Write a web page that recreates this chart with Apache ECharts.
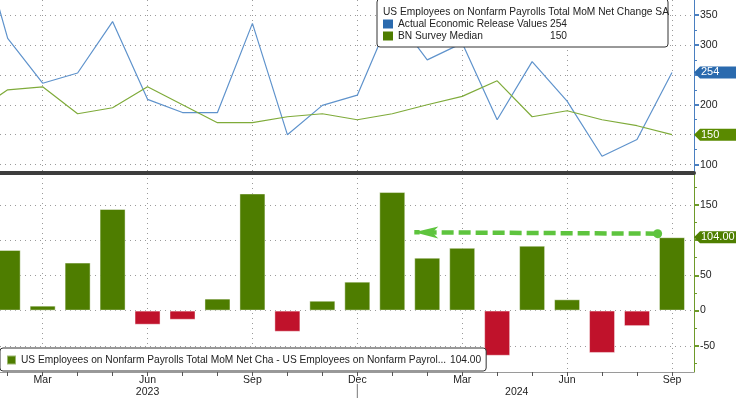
<!DOCTYPE html>
<html>
<head>
<meta charset="utf-8">
<script src="https://cdn.jsdelivr.net/npm/echarts@6/dist/echarts.min.js"></script>
<style>
  html, body { margin: 0; padding: 0; background: #fff; }
  #chart { width: 736px; height: 398px; }
</style>
</head>
<body>
<div id="chart"></div>
<script>
// monthly releases, Jan 2023 .. Sep 2024 (x position = index)
const periods = [
  'Jan 2023', 'Feb 2023', 'Mar 2023', 'Apr 2023', 'May 2023', 'Jun 2023', 'Jul 2023',
  'Aug 2023', 'Sep 2023', 'Oct 2023', 'Nov 2023', 'Dec 2023', 'Jan 2024', 'Feb 2024',
  'Mar 2024', 'Apr 2024', 'May 2024', 'Jun 2024', 'Jul 2024', 'Aug 2024', 'Sep 2024'
];
const actual = [517, 311, 236, 253, 339, 209, 187, 187, 336, 150, 199, 216, 353, 275, 303, 175, 272, 206, 114, 142, 254];
const survey = [185, 225, 230, 185, 195, 230, 200, 170, 170, 180, 185, 175, 185, 200, 214, 240, 180, 190, 175, 165, 150];
const surprise = [null, 86, 7, 68, 144, -20, -13, 17, 166, -30, 14, 41, 168, 75, 89, -64, 92, 16, -60, -22, 104];

const monthTicks = [1, 2, 3, 4, 5, 6, 7, 8, 9, 10, 11, 12, 13, 14, 15, 16, 17, 18, 19, 20];
const quarterTicks = [2, 5, 8, 11, 14, 17, 20];
const yearLabelPos = [5, 15.56];
const yearLabels = ['2023', '2024'];

const topTicks = [100, 150, 200, 250, 300, 350];
const topMinor = [125, 175, 225, 275, 325];
const botTicks = [-50, 0, 50, 100, 150];
const botMinor = [-75, -25, 25, 75, 125, 175];

// the dashed "surprise" arrow annotation
const arrowFrom = [19.59, 109];
const arrowTo = [12.63, 111];

const titleText = 'US Employees on Nonfarm Payrolls Total MoM Net Change SA';
const actualName = 'Actual Economic Release Values';
const surveyName = 'BN Survey Median';
const barName = 'US Employees on Nonfarm Payrolls Total MoM Net Cha - US Employees on Nonfarm Payrol...';

const FONT = "'Liberation Sans', Arial, sans-serif";
const FS = 10.2;   // legend / title text
const AFS = 10.5;  // axis labels
const xMin = 0.78, xMax = 20.63;

const blue = '#5f93cc';
const blueDark = '#2a6aae';
const green = '#7fab3a';
const greenDark = '#4e7d00';
const red = '#c0122b';
const dotted = { color: '#9a9a9a', type: [1, 4], width: 1 };

const chart = echarts.init(document.getElementById('chart'), null, { renderer: 'canvas' });

function badge(x, y, text, color) {
  return {
    symbol: 'path://M0,6 L6,0 L48,0 L48,12 L6,12 Z',
    symbolSize: [48, 12],
    symbolKeepAspect: false,
    symbolOffset: [24, 0],
    animation: false,
    silent: true,
    itemStyle: { color: color },
    label: {
      show: true,
      position: 'insideLeft',
      distance: 7,
      color: '#fff',
      fontSize: 11,
      fontFamily: FONT,
      formatter: text
    },
    data: [{ coord: [x, y] }]
  };
}

function xBase(gridIndex) {
  return {
    type: 'value',
    gridIndex: gridIndex,
    min: xMin,
    max: xMax,
    position: 'bottom'
  };
}

const option = {
  animation: false,
  backgroundColor: '#fff',
  textStyle: { fontFamily: FONT },
  title: {
    text: titleText,
    left: 383,
    top: 6,
    padding: 0,
    textStyle: { fontFamily: FONT, fontSize: FS, fontWeight: 'normal', color: '#222', lineHeight: 12 }
  },
  legend: [
    {
      data: [actualName, surveyName],
      orient: 'vertical',
      left: 377,
      top: -1,
      padding: [19, 6, 5, 6],
      itemWidth: 10,
      itemHeight: 9,
      itemGap: 0,
      icon: 'rect',
      backgroundColor: '#fff',
      borderColor: '#333',
      borderWidth: 1,
      borderRadius: 3,
      selectedMode: false,
      formatter: function (name) {
        const v = name === actualName ? actual[actual.length - 1] : survey[survey.length - 1];
        return '{n|' + name + '}{v|' + v + '}';
      },
      textStyle: {
        fontFamily: FONT, fontSize: FS, color: '#222', lineHeight: 12,
        rich: {
          n: { width: 152, fontFamily: FONT, fontSize: FS, color: '#222' },
          v: { width: 112, fontFamily: FONT, fontSize: FS, color: '#222' }
        }
      }
    },
    {
      data: [barName],
      left: 0,
      top: 348,
      padding: [6, 5, 5, 6],
      itemWidth: 9,
      itemHeight: 9,
      icon: 'rect',
      backgroundColor: '#fff',
      borderColor: '#333',
      borderWidth: 1,
      borderRadius: 3,
      selectedMode: false,
      formatter: function (name) {
        return '{n|' + name + '}{v|' + surprise[surprise.length - 1].toFixed(2) + '}';
      },
      textStyle: {
        fontFamily: FONT, fontSize: FS, color: '#222', lineHeight: 12,
        rich: {
          n: { width: 429, fontFamily: FONT, fontSize: FS, color: '#222' },
          v: { width: 27, fontFamily: FONT, fontSize: FS, color: '#222' }
        }
      }
    }
  ],
  grid: [
    { left: 0, right: 42, top: 0, height: 173 },
    { left: 0, right: 42, top: 173, bottom: 26 }
  ],
  xAxis: [
    // top panel: quarter gridlines + dark separator as its axis line
    Object.assign(xBase(0), {
      axisLine: { show: true, onZero: false, lineStyle: { color: '#3d3d3d', width: 4 } },
      axisTick: { show: false, customValues: quarterTicks },
      axisLabel: { show: false },
      splitLine: { show: true, lineStyle: dotted }
    }),
    // bottom panel: month ticks + quarter labels
    Object.assign(xBase(1), {
      axisLine: { show: true, onZero: false, lineStyle: { color: '#9a9a9a', width: 1 } },
      axisTick: { show: true, customValues: monthTicks, length: 4, lineStyle: { color: '#555' } },
      axisLabel: {
        customValues: quarterTicks,
        margin: 3,
        color: '#222',
        fontSize: AFS,
        fontFamily: FONT,
        formatter: function (v) { return periods[Math.round(v)].split(' ')[0]; }
      },
      splitLine: { show: false }
    }),
    // bottom panel: quarter gridlines
    Object.assign(xBase(1), {
      axisLine: { show: false },
      axisTick: { show: false, customValues: quarterTicks },
      axisLabel: { show: false },
      splitLine: { show: true, lineStyle: dotted }
    }),
    // year labels
    Object.assign(xBase(1), {
      axisLine: { show: false },
      axisTick: { show: false, customValues: yearLabelPos },
      axisLabel: {
        customValues: yearLabelPos,
        margin: 15,
        color: '#222',
        fontSize: AFS,
        fontFamily: FONT,
        formatter: function (v) { return v < 11 ? yearLabels[0] : yearLabels[1]; }
      },
      splitLine: { show: false }
    })
  ],
  yAxis: [
    {
      type: 'value', gridIndex: 0, position: 'right', min: 86, max: 375,
      axisLine: { show: true, lineStyle: { color: '#4a7fc0', width: 1 } },
      axisTick: { show: true, customValues: topTicks, length: 5, lineStyle: { color: '#4a7fc0', width: 2 } },
      axisLabel: { customValues: topTicks, margin: 6, color: '#222', fontSize: AFS, fontFamily: FONT },
      splitLine: { show: true, lineStyle: dotted }
    },
    {
      type: 'value', gridIndex: 0, position: 'right', min: 86, max: 375,
      axisLine: { show: false },
      axisTick: { show: true, customValues: topMinor, length: 3, lineStyle: { color: '#4a7fc0', width: 1 } },
      axisLabel: { show: false },
      splitLine: { show: false }
    },
    {
      type: 'value', gridIndex: 1, position: 'right', min: -87, max: 195,
      axisLine: { show: true, lineStyle: { color: '#6e9a2a', width: 1 } },
      axisTick: { show: true, customValues: botTicks, length: 5, lineStyle: { color: '#6e9a2a', width: 2 } },
      axisLabel: { customValues: botTicks, margin: 6, color: '#222', fontSize: AFS, fontFamily: FONT },
      splitLine: { show: true, lineStyle: dotted }
    },
    {
      type: 'value', gridIndex: 1, position: 'right', min: -87, max: 195,
      axisLine: { show: false },
      axisTick: { show: true, customValues: botMinor, length: 3, lineStyle: { color: '#6e9a2a', width: 1 } },
      axisLabel: { show: false },
      splitLine: { show: false }
    }
  ],
  series: [
    {
      name: actualName,
      type: 'line',
      xAxisIndex: 0,
      yAxisIndex: 0,
      data: actual.map((v, i) => [i, v]),
      symbol: 'none',
      color: blueDark,
      lineStyle: { color: blue, width: 1.2 },
      markPoint: badge(xMax, actual[actual.length - 1], String(actual[actual.length - 1]), blueDark)
    },
    {
      name: surveyName,
      type: 'line',
      xAxisIndex: 0,
      yAxisIndex: 0,
      data: survey.map((v, i) => [i, v]),
      symbol: 'none',
      color: greenDark,
      lineStyle: { color: green, width: 1.2 },
      markPoint: badge(xMax, survey[survey.length - 1], String(survey[survey.length - 1]), '#5a8a00')
    },
    {
      name: barName,
      type: 'bar',
      xAxisIndex: 1,
      yAxisIndex: 2,
      barWidth: 26,
      color: greenDark,
      data: surprise.map((v, i) => [i, v]).filter(d => d[1] !== null),
      itemStyle: {
        color: function (p) { return p.value[1] >= 0 ? greenDark : red; },
        borderColor: 'rgba(255,255,255,0.45)',
        borderWidth: 1
      },
      markLine: {
        silent: true,
        animation: false,
        symbol: ['circle', 'arrow'],
        symbolSize: [9, 24],
        label: { show: false },
        lineStyle: { color: '#5ec43e', width: 4.5, type: [12, 5] },
        data: [[{ coord: arrowFrom }, { coord: arrowTo }]]
      },
      markPoint: badge(xMax, surprise[surprise.length - 1], surprise[surprise.length - 1].toFixed(2), '#4f7f00')
    }
  ]
};

chart.setOption(option);

// year divider below the December label + small separator handle
const divX = chart.convertToPixel({ xAxisIndex: 1 }, 11);
chart.setOption({
  graphic: [
    { type: 'line', silent: true, shape: { x1: divX, y1: 384, x2: divX, y2: 398 }, style: { stroke: '#777', lineWidth: 1 } },
    { type: 'rect', silent: true, shape: { x: 362, y: 172, width: 11, height: 2 }, style: { fill: '#8a8a8a' } }
  ]
});
</script>
</body>
</html>
